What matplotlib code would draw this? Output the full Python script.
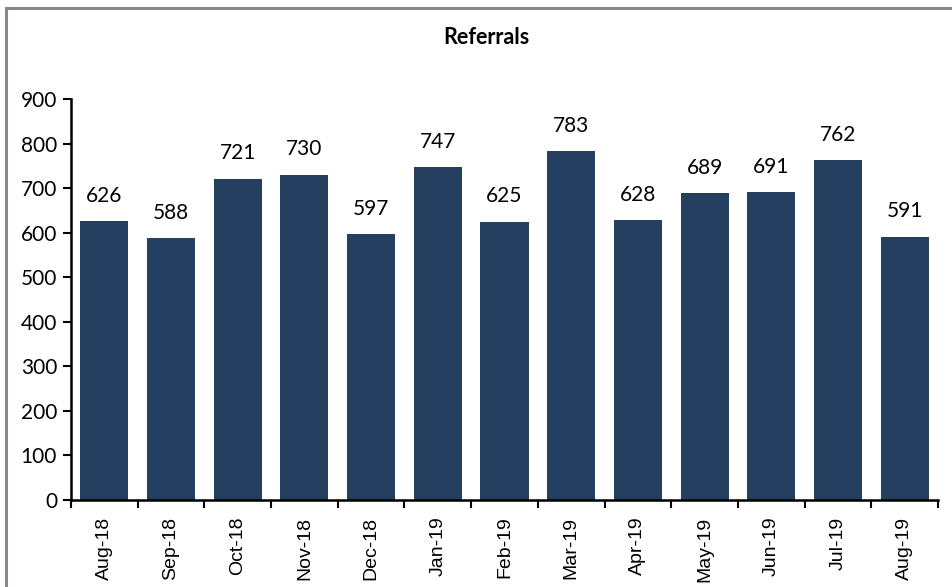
import matplotlib
matplotlib.use("Agg")
import matplotlib.pyplot as plt
from matplotlib.lines import Line2D
import numpy as np

categories = ["Aug-18", "Sep-18", "Oct-18", "Nov-18", "Dec-18", "Jan-19", "Feb-19",
              "Mar-19", "Apr-19", "May-19", "Jun-19", "Jul-19", "Aug-19"]
values = [626, 588, 721, 730, 597, 747, 625, 783, 628, 689, 691, 762, 591]
yticks = [0, 100, 200, 300, 400, 500, 600, 700, 800, 900]

W, H = 952, 587
fig = plt.figure(figsize=(W / 100, H / 100), dpi=100)
ax = fig.add_axes([71 / W, 1 - 500 / H, (938 - 71) / W, (500 - 99) / H])

x = np.arange(len(categories))
bar_color = "#243F60"
ax.bar(x, values, width=0.72, color=bar_color, zorder=2)
for xi, v in zip(x, values):
    ax.annotate(str(v), (xi, v), xytext=(0, 11), textcoords="offset points",
                ha="center", va="bottom", fontsize=15, family="Lato", color="black")

ax.set_xlim(-0.5, len(categories) - 0.5)
ax.set_ylim(0, 900)
ax.set_yticks(yticks)
ax.set_yticklabels([str(t) for t in yticks], fontsize=15, family="Lato")
ax.set_xticks(x)
ax.set_xticklabels(categories, rotation=90, fontsize=14, family="Liberation Sans")
ax.tick_params(axis="x", which="major", length=0, pad=12)
ax.set_xticks(np.arange(-0.5, len(categories)), minor=True)
ax.tick_params(axis="x", which="minor", length=6, width=1.5, direction="out")
ax.tick_params(axis="y", which="major", length=6, width=1.5, direction="out", pad=4)

for s in ["top", "right"]:
    ax.spines[s].set_visible(False)
for s in ["left", "bottom"]:
    ax.spines[s].set_linewidth(1.8)
    ax.spines[s].set_color("black")

fig.text(486 / W, 1 - 38 / H, "Referrals", ha="center", va="center",
         fontsize=15.5, fontweight="bold", family="Lato")

# outer border (top and left visible)
fig.add_artist(Line2D([6 / W, 1], [1 - 8 / H, 1 - 8 / H], color="#888888", lw=2.2,
                      transform=fig.transFigure))
fig.add_artist(Line2D([6 / W, 6 / W], [0, 1 - 8 / H], color="#888888", lw=2.2,
                      transform=fig.transFigure))

fig.savefig("out.png", dpi=100)
